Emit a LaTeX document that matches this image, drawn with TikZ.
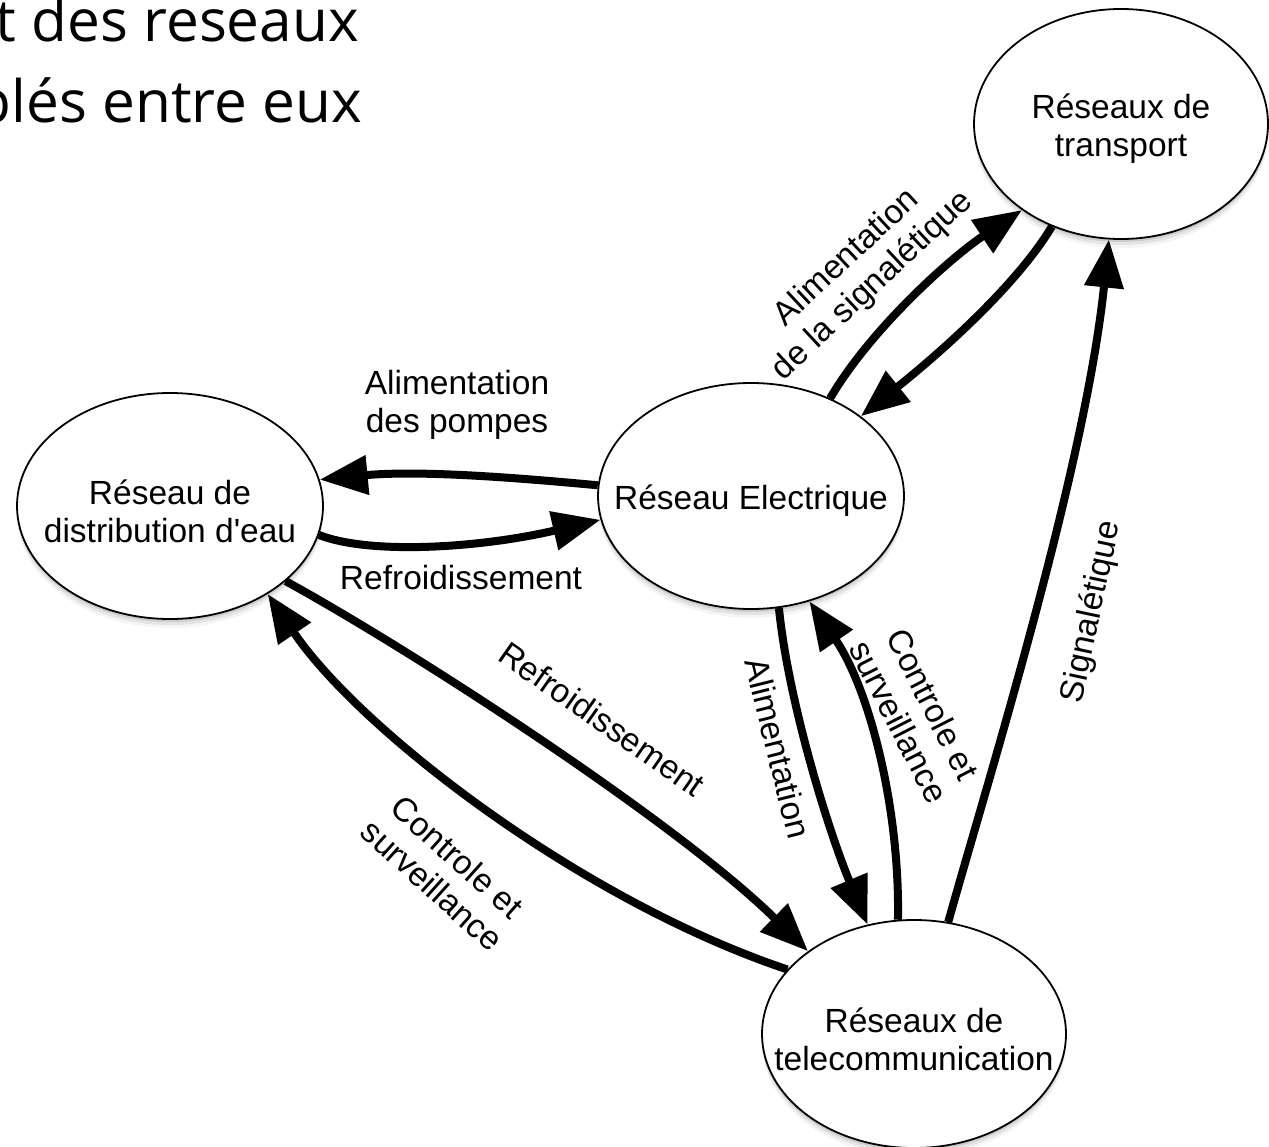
\documentclass[tikz,border=0pt]{standalone}
\usepackage{fontspec}
\setmainfont{Liberation Sans}
\newfontfamily\titlefont{Open Sans}
\usetikzlibrary{arrows.meta,shapes.geometric,shadows}
\newcommand\lblfont{\fontsize{33.5}{38}\selectfont}
\begin{document}
\begin{tikzpicture}[x=1pt,y=-1pt,
  net/.style={ellipse, draw, line width=1.8pt, fill=white, inner sep=0pt,
    drop shadow={shadow xshift=0pt,shadow yshift=-3pt,opacity=.10,fill=black},
    drop shadow={shadow xshift=0pt,shadow yshift=-6pt,opacity=.07,fill=black},
    drop shadow={shadow xshift=0pt,shadow yshift=-9pt,opacity=.04,fill=black}},
  lab/.style={font=\lblfont, align=center, inner sep=0pt},
  inlab/.style={lab, yshift=-5pt},
  flow/.style={line width=8pt, -{Triangle[length=48pt,width=38pt]}},
  ttl/.style={font=\titlefont\fontsize{58.5}{64}\selectfont, inner sep=0pt, anchor=base east}]
\useasboundingbox (0,0) rectangle (1269,1147);
\clip (0,0) rectangle (1269,1147);

% title (cut off at the left edge)
\node[ttl] (t1) at (359,42) {t des reseaux};
\node[ttl] (t2) at (362,123) {plés entre eux};

% networks
\node[net, minimum width=294pt, minimum height=230pt,
  label={[inlab]center:Réseaux de\\transport}] (T) at (1121,124) {};
\node[net, minimum width=306pt, minimum height=226pt,
  label={[inlab]center:Réseau Electrique}] (E) at (751,496) {};
\node[net, minimum width=306pt, minimum height=226pt,
  label={[inlab]center:Réseau de\\distribution d\textquotesingle eau}] (D) at (170,506) {};
\node[net, minimum width=304pt, minimum height=228pt,
  label={[inlab]center:Réseaux de\\telecommunication}] (C) at (914,1034) {};

% flows
\draw[flow] (E.176) .. controls (520,478) and (420,470) .. (D.10);
\draw[flow] (D.-11) .. controls (370,555) and (480,548) .. (E.189);
\draw[flow] (E.51) .. controls (870,330) and (950,258) .. (T.221);
\draw[flow] (T.236) .. controls (1020,280) and (950,345) .. (E.36);
\draw[flow] (C.73) .. controls (985,790) and (1085,470) .. (T.264);
\draw[flow] (E.-76) .. controls (788,700) and (828,830) .. (C.113);
\draw[flow] (C.98) .. controls (900,810) and (870,690) .. (E.-61);
\draw[flow] (D.-33) .. controls (420,655) and (680,825) .. (C.142);
\draw[flow] (C.153) .. controls (580,900) and (360,730) .. (D.-42);

% labels
\node[lab] (l1) at (457,405) {Alimentation\\des pompes};
\node[lab] (l2) at (461,578) {Refroidissement};
\node[lab, rotate=43] (l3) at (860,272) {Alimentation\\de la signalétique};
\node[lab, rotate=78] (l4) at (1092,612) {Signalétique};
\node[lab, rotate=-76] (l5) at (778,748) {Alimentation};
\node[lab, rotate=-63] (l6) at (916,713) {Controle et\\surveillance};
\node[lab, rotate=-35] (l7) at (602,719) {Refroidissement};
\node[lab, rotate=-42] (l8) at (445,871) {Controle et\\surveillance};
\end{tikzpicture}
\end{document}
